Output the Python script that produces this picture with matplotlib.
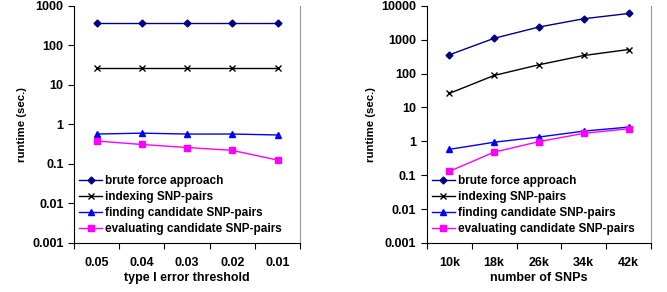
import numpy as np
import matplotlib.pyplot as plt
from matplotlib.ticker import FixedLocator, NullFormatter, FixedFormatter

plt.rcParams['font.family'] = ['Liberation Sans', 'DejaVu Sans']
plt.rcParams['font.weight'] = 'bold'

# left panel: type I error threshold
thresholds = ['0.05', '0.04', '0.03', '0.02', '0.01']
brute_a = [366, 366, 366, 366, 366]
index_a = [26, 26, 26, 26, 26]
find_a = [0.57, 0.60, 0.57, 0.57, 0.54]
eval_a = [0.38, 0.31, 0.26, 0.22, 0.125]

# right panel: number of SNPs
snps = ['10k', '18k', '26k', '34k', '42k']
brute_b = [358, 1100, 2370, 4160, 5950]
index_b = [26, 88, 182, 342, 513]
find_b = [0.58, 0.94, 1.34, 2.0, 2.63]
eval_b = [0.13, 0.48, 0.98, 1.72, 2.35]

names = ['brute force approach', 'indexing SNP-pairs',
         'finding candidate SNP-pairs', 'evaluating candidate SNP-pairs']
styles = [dict(color='#000080', marker='D', ms=3.5),
          dict(color='black', marker='x', ms=5, mew=1),
          dict(color='#0000FF', marker='^', ms=5),
          dict(color='#FF00FF', marker='s', ms=4.5)]

fig = plt.figure(figsize=(6.67, 2.92), dpi=100)
ax1 = fig.add_axes([0.111, 0.168, 0.339, 0.812])
ax2 = fig.add_axes([0.640, 0.168, 0.336, 0.812])


def draw(ax, cats, series, ymin, ymax, xlabel):
    x = np.arange(len(cats))
    for vals, name, st in zip(series, names, styles):
        ax.plot(x, vals, lw=1, label=name, **st)
    ax.set_yscale('log')
    ax.set_ylim(ymin, ymax)
    ax.set_xlim(-0.5, len(cats) - 0.5)
    ax.xaxis.set_major_locator(FixedLocator(np.arange(len(cats) + 1) - 0.5))
    ax.xaxis.set_major_formatter(NullFormatter())
    ax.xaxis.set_minor_locator(FixedLocator(x))
    ax.xaxis.set_minor_formatter(FixedFormatter(cats))
    ax.tick_params(axis='x', which='major', length=4, direction='out')
    ax.tick_params(axis='x', which='minor', length=0, pad=10, labelsize=9)
    ax.tick_params(axis='y', which='major', length=4, labelsize=9)
    ax.tick_params(axis='y', which='minor', length=0)
    ticks = [10.0 ** k for k in range(int(np.log10(ymin)), int(np.log10(ymax)) + 1)]
    ax.set_yticks(ticks)
    ax.set_yticklabels([('%g' % t) if t < 1 else '%d' % t for t in ticks])
    ax.spines['top'].set_visible(False)
    ax.spines['right'].set_color('#999999')
    ax.set_xlabel(xlabel, fontsize=9, fontweight='bold', labelpad=2)
    ax.set_ylabel('runtime (sec.)', fontsize=8.2, fontweight='bold', labelpad=4)
    ax.legend(loc='lower left', bbox_to_anchor=(0.0, 0.012), frameon=False,
              fontsize=8.5, handlelength=2.0, handletextpad=0.25,
              labelspacing=0.35, borderaxespad=0.0)


draw(ax1, thresholds, [brute_a, index_a, find_a, eval_a], 0.001, 1000,
     'type I error threshold')
draw(ax2, snps, [brute_b, index_b, find_b, eval_b], 0.001, 10000,
     'number of SNPs')

fig.savefig('out.png', dpi=100)
